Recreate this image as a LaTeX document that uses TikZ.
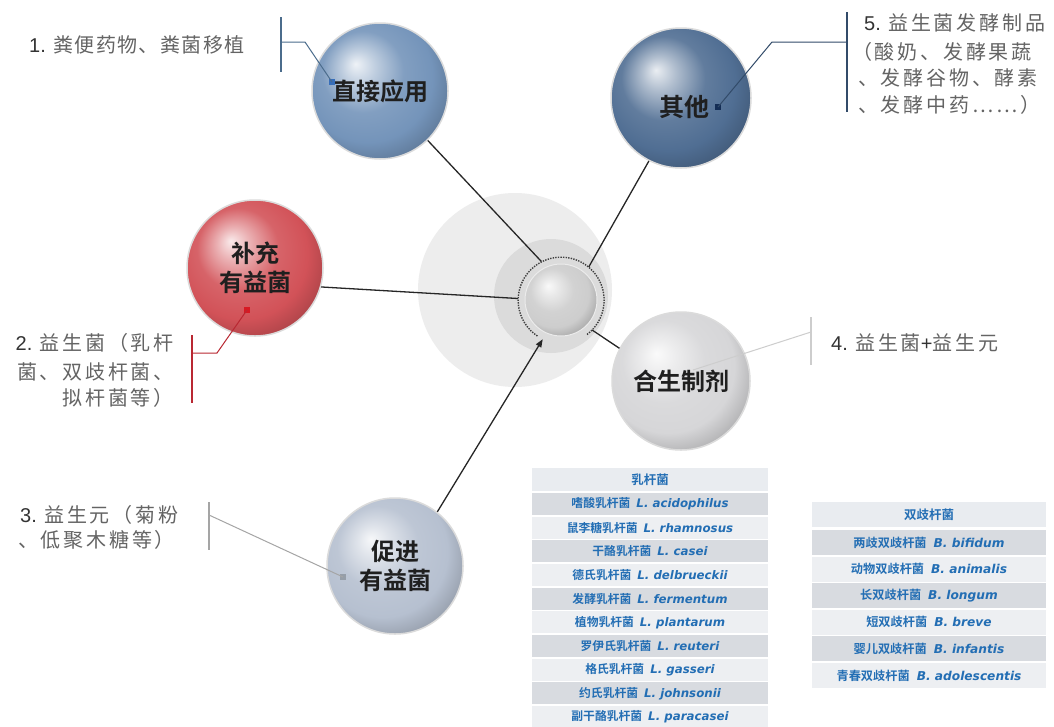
\documentclass[tikz,border=0pt]{standalone}
\usepackage{fontspec}
\setmainfont{Liberation Sans}
\newfontfamily\cjk{Noto Sans CJK SC}[LetterSpace=7]
\newfontfamily\cjkw{Noto Sans CJK SC}[LetterSpace=14]
\newfontfamily\cjkb{Noto Sans CJK SC Bold}
\newfontfamily\latbi{DejaVu Sans Bold Oblique}
\usetikzlibrary{arrows.meta}

% palette
\definecolor{bluA}{RGB}{116,148,186}
\definecolor{bluB}{RGB}{80,110,147}
\definecolor{redA}{RGB}{210,82,88}
\definecolor{grayA}{RGB}{214,214,216}
\definecolor{grayB}{RGB}{182,192,208}
\definecolor{grayC}{RGB}{205,205,205}
\definecolor{hubout}{RGB}{237,237,237}
\definecolor{hubmid}{RGB}{219,219,219}
\definecolor{tblue}{RGB}{35,110,180}
\definecolor{rowdark}{RGB}{216,219,224}
\definecolor{rowlight}{RGB}{237,239,242}
\definecolor{rowhead}{RGB}{233,236,240}
\definecolor{cA}{RGB}{75,108,140}
\definecolor{mA}{RGB}{55,110,185}
\definecolor{cE}{RGB}{50,75,105}
\definecolor{mE}{RGB}{20,45,85}
\definecolor{cB}{RGB}{185,40,50}
\definecolor{mB}{RGB}{215,25,35}
\definecolor{cC}{RGB}{165,165,165}
\definecolor{mC}{RGB}{150,158,168}
\definecolor{cD}{RGB}{205,205,205}
\definecolor{labgray}{RGB}{100,100,100}

% soft glossy sphere, tinted by the colour "sph"
\colorlet{sph}{gray}
\pgfdeclareradialshading[sph]{softball}{\pgfqpoint{-9bp}{10bp}}{%
 color(0bp)=(sph!12!white);
 color(6bp)=(sph!45!white);
 color(15bp)=(sph!90!white);
 color(24bp)=(sph);
 color(32bp)=(sph!80!black);
 color(38bp)=(sph!65!black);
 color(50bp)=(sph!65!black)}

\begin{document}
\begin{tikzpicture}[x=1pt,y=-1pt,
  ball/.style={circle, inner sep=0pt, minimum size=#1, shading=softball,
    draw=white!86!black, line width=1.5pt,
    font=\cjkb\fontsize{24}{29}\selectfont, text=black!88, align=center},
  tint/.code={\colorlet{sph}{#1}},
  link/.style={draw=black!85, line width=1.3pt},
  pin/.style={rectangle, inner sep=0pt, minimum size=6pt},
  lab/.style={inner sep=0pt, text=labgray, font=\fontsize{20}{24}\selectfont},
  thead/.style={fill=rowhead, inner sep=0pt, text=tblue,
    font=\cjkb\fontsize{12.5}{14}\selectfont},
  lrow/.style={inner sep=0pt, minimum width=236pt, minimum height=22pt,
    text=tblue, font=\fontsize{11.8}{13}\selectfont},
  brow/.style={inner sep=0pt, minimum width=234pt, minimum height=25pt,
    text=tblue, font=\fontsize{12.2}{14}\selectfont},
]
\path[use as bounding box, clip] (0,0) rectangle (1054,726);
\fill[white] (0,0) rectangle (1054,726);

% hub backdrop
\fill[hubout] (515,290) circle[radius=97];
\fill[hubmid] (551,296) circle[radius=57];
\node[circle, inner sep=0pt, minimum size=86pt] (ring) at (561,300) {};

% outer spheres
\node[ball=136pt, tint=bluA] (d1) at (380,91) {直接应用};
\node[ball=140pt, tint=bluB] (d5) at (681,98) {};
\node[inner sep=0pt, font=\cjkb\fontsize{25}{29}\selectfont, text=black!88] (d5t) at (684,107) {其他};
\node[ball=136pt, tint=redA] (d2) at (255,268) {补充\\有益菌};
\node[ball=138pt, tint=grayA] (d4) at (681,381) {合生制剂};
\node[ball=136pt, tint=grayB] (d3) at (395,566) {促进\\有益菌};

% spokes into the hub
\draw[link] (d1.-46) -- (ring.117);
\draw[link] (d5.-117) -- (ring.50);
\draw[link] (d2.-16) -- (ring.178);
\draw[link] (ring.-44) -- (d4.152);
\draw[link, -{Triangle[length=8pt,width=6pt]}] (d3.52) -- (ring.-115);

% dotted ring and core sphere
\draw[black!75, line width=1.4pt, dash pattern=on 1.4pt off 1.2pt]
  (ring.-53) arc[start angle=53, end angle=-237, radius=43];
\node[ball=72pt, tint=grayC, draw=white!92!black, line width=1pt] (core) at (561,300) {};

% callout 1
\coordinate (c1top) at (281,17);
\coordinate (c1bot) at (281,72);
\coordinate (c1j) at (281,42);
\coordinate (c1k) at (305,42);
\node[pin, fill=mA] (m1) at (332,82) {};
\draw[cA, line width=1.2pt] (c1top) -- (c1bot);
\draw[cA, line width=1pt] (c1j) -- (c1k) -- (m1.center);
\node[lab, anchor=west] (t1) at (29,45)
  {\textcolor{black!80}{1.} {\cjk 粪便药物、粪菌移植}};

% callout 5
\coordinate (c5top) at (847,12);
\coordinate (c5bot) at (847,112);
\coordinate (c5j) at (847,42);
\coordinate (c5k) at (772,42);
\node[pin, fill=mE] (m5) at (718,107) {};
\draw[cE, line width=1.2pt] (c5top) -- (c5bot);
\draw[cE, line width=1pt] (c5j) -- (c5k) -- (m5.center);
\node[lab, anchor=west] (t5a) at (864,23)
  {\textcolor{black!80}{5.} {\cjkw 益生菌发酵制品}};
\node[lab, anchor=west] (t5b) at (852,52) {\cjkw （酸奶、发酵果蔬};
\node[lab, anchor=west] (t5c) at (858,78) {\cjkw 、发酵谷物、酵素};
\node[lab, anchor=west] (t5d) at (858,105) {\cjkw 、发酵中药……）};

% callout 2
\coordinate (c2top) at (192,335);
\coordinate (c2bot) at (192,403);
\coordinate (c2j) at (192,353);
\coordinate (c2k) at (217,353);
\node[pin, fill=mB] (m2) at (247,310) {};
\draw[cB, line width=1.2pt] (c2top) -- (c2bot);
\draw[cB, line width=1pt] (c2j) -- (c2k) -- (m2.center);
\node[lab, anchor=east] (t2a) at (174,343)
  {\textcolor{black!80}{2.} {\cjkw 益生菌（乳杆}};
\node[lab, anchor=east] (t2b) at (174,372) {\cjkw 菌、双歧杆菌、};
\node[lab, anchor=east] (t2c) at (174,398) {\cjkw 拟杆菌等）};

% callout 3
\coordinate (c3top) at (209,502);
\coordinate (c3bot) at (209,550);
\coordinate (c3j) at (209,515);
\node[pin, fill=mC] (m3) at (343,577) {};
\draw[cC, line width=1.2pt] (c3top) -- (c3bot);
\draw[cC, line width=1pt] (c3j) -- (m3.center);
\node[lab, anchor=west] (t3a) at (20,515)
  {\textcolor{black!80}{3.} {\cjkw 益生元（菊粉}};
\node[lab, anchor=west] (t3b) at (18,540) {\cjkw 、低聚木糖等）};

% callout 4
\coordinate (c4top) at (811,317);
\coordinate (c4bot) at (811,365);
\coordinate (c4j) at (811,332);
\coordinate (c4e) at (693,370);
\draw[cD, line width=1.2pt] (c4top) -- (c4bot);
\draw[cD, line width=1pt] (c4j) -- (c4e);
\node[lab, anchor=west] (t4) at (831,343)
  {\textcolor{black!80}{4.} {\cjkw 益生菌}\textcolor{black!80}{+}{\cjkw 益生元}};

% Lactobacillus table
\node[thead, minimum width=236pt, minimum height=23pt] (lh) at (650,479.5) {乳杆菌};
\foreach \cn/\la [count=\i] in {嗜酸乳杆菌/acidophilus, 鼠李糖乳杆菌/rhamnosus,
    干酪乳杆菌/casei, 德氏乳杆菌/delbrueckii, 发酵乳杆菌/fermentum,
    植物乳杆菌/plantarum, 罗伊氏乳杆菌/reuteri, 格氏乳杆菌/gasseri,
    约氏乳杆菌/johnsonii, 副干酪乳杆菌/paracasei} {
  \pgfmathsetmacro\yy{504+(\i-1)*23.67}
  \pgfmathtruncatemacro\odd{mod(\i,2)}
  \ifnum\odd=1 \def\rc{rowdark}\else\def\rc{rowlight}\fi
  \node[lrow, fill=\rc] (l\i) at (650,\yy) {{\cjkb \cn}\hspace{6pt}{\latbi L. \la}};
}

% Bifidobacterium table
\node[thead, minimum width=234pt, minimum height=25pt] (bh) at (929,514.5) {双歧杆菌};
\foreach \cn/\la [count=\i] in {两歧双歧杆菌/bifidum, 动物双歧杆菌/animalis,
    长双歧杆菌/longum, 短双歧杆菌/breve, 婴儿双歧杆菌/infantis,
    青春双歧杆菌/adolescentis} {
  \pgfmathsetmacro\yy{542.5+(\i-1)*26.6}
  \pgfmathtruncatemacro\odd{mod(\i,2)}
  \ifnum\odd=1 \def\rc{rowdark}\else\def\rc{rowlight}\fi
  \node[brow, fill=\rc] (b\i) at (929,\yy) {{\cjkb \cn}\hspace{7pt}{\latbi B. \la}};
}
\end{tikzpicture}
\end{document}
